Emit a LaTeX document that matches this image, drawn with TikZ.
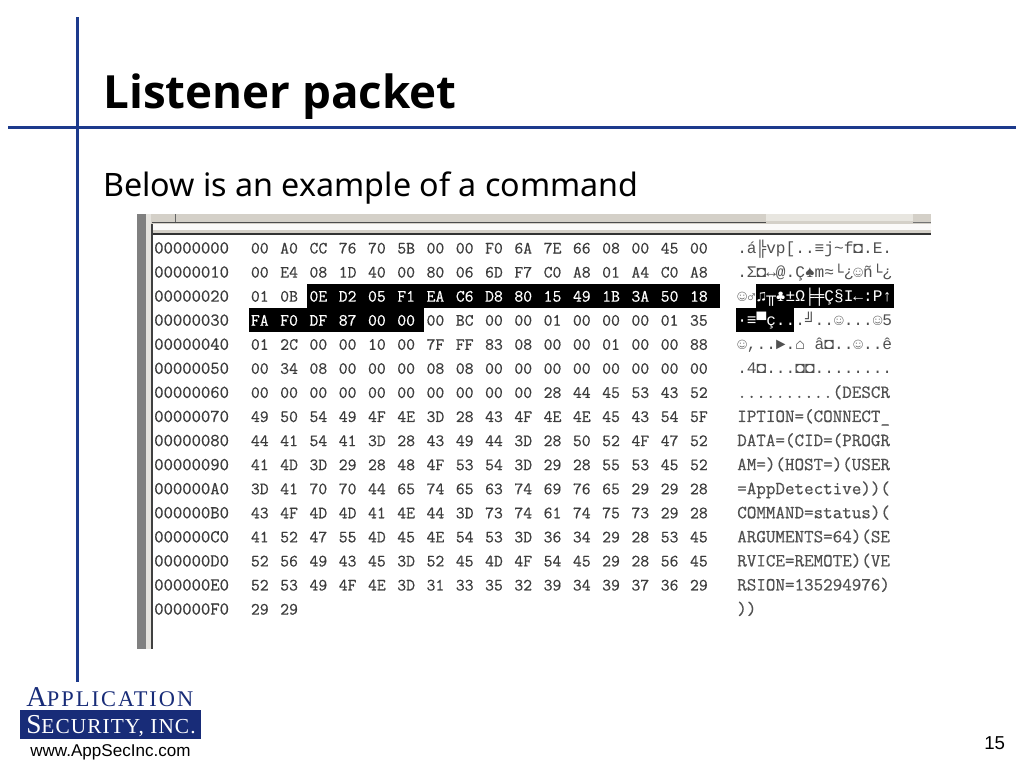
\documentclass[tikz,border=0pt]{standalone}
\usepackage{fontspec}
\usetikzlibrary{positioning}
\setmainfont{Noto Sans}
\newfontfamily\titlefont{Open Sans}
\newfontfamily\slabfont[FakeBold=0.5]{Latin Modern Mono}
\newfontfamily\hexfont{Liberation Mono}
\newfontfamily\urlfont{Liberation Sans}
\newfontfamily\logofont[LetterSpace=9]{Liberation Serif}
\newfontfamily\logoboxfont[LetterSpace=5]{Liberation Serif}
\definecolor{rulecol}{RGB}{28,58,140}
\definecolor{logocol}{RGB}{24,44,120}
\definecolor{chrome}{RGB}{212,208,200}
\definecolor{dither}{RGB}{232,230,224}
\definecolor{hexcol}{RGB}{60,60,60}
\definecolor{txtcol}{RGB}{80,80,80}
\begin{document}
\begin{tikzpicture}[x=0.75pt,y=-0.75pt]
\tikzstyle{rule}=[draw=rulecol,line width=2.25pt]
\tikzstyle{addrlabel}=[inner sep=0pt,anchor=base west,text=hexcol,font=\slabfont\fontsize{13.6}{14}\selectfont]
\tikzstyle{bytelabel}=[inner sep=0pt,anchor=base west,font=\slabfont\fontsize{12.9}{14}\selectfont]
\tikzstyle{charlabel}=[inner sep=0pt,anchor=base west,text=txtcol,font=\hexfont\fontsize{12.1}{12}\selectfont]
\tikzstyle{slablabel}=[inner sep=0pt,anchor=base west,text=txtcol,font=\slabfont\fontsize{13.9}{14}\selectfont]
\useasboundingbox (0,0) rectangle (1024,768);
\fill [white] (0,0) rectangle (1024,768);
\draw [rule] (77,17) -- (77,682);
\draw [rule] (8,127) -- (1016,127);
\node [inner sep=0pt,anchor=base west,font=\titlefont\bfseries\fontsize{34.3}{38}\selectfont] (title) at (103,108) {Listener packet};
\node [inner sep=0pt,anchor=base west,font=\fontsize{24.2}{30}\selectfont] (subtitle) at (103,196) {Below is an example of a command};
\fill [chrome] (147,214) rectangle (931,234);
\fill [white!90!chrome] (152,224) rectangle (931,230);
\fill [dither] (766,214) rectangle (913,221);
\fill [black!70] (152,221.5) rectangle (766,223);
\fill [black!55] (913,221.5) rectangle (931,223);
\fill [black!80] (152,233) rectangle (931,235);
\draw [black!60] (150,214) -- (150,222);
\draw [black!60] (175,214) -- (175,222);
\fill [black!50] (137,214) rectangle (146,649);
\fill [chrome!60!white] (146,214) rectangle (151,649);
\fill [black!75] (151,224) rectangle (153,649);
\fill [black] (307,284) rectangle (720,308);
\fill [black] (249,308) rectangle (424,332);
\fill [black] (756,284) rectangle (894,308);
\fill [black] (736,308) rectangle (794,332);
\foreach \n/\addr/\bytes/\stylename/\txt in {
0/00000000/{00,A0,CC,76,70,5B,00,00,F0,6A,7E,66,08,00,45,00}/charlabel/{.á╠vp[..≡j\textasciitilde f◘.E.},
1/00000010/{00,E4,08,1D,40,00,80,06,6D,F7,C0,A8,01,A4,C0,A8}/charlabel/{.Σ◘↔@.Ç♠m≈└¿☺ñ└¿},
2/00000020/{01,0B,0E,D2,05,F1,EA,C6,D8,80,15,49,1B,3A,50,18}/charlabel/{☺♂\textcolor{white}{♫╥♣±Ω╞╪Ç§I←:P↑}},
3/00000030/{FA,F0,DF,87,00,00,00,BC,00,00,01,00,00,00,01,35}/charlabel/{\textcolor{white}{·≡▀ç..}.╝..☺...☺5},
4/00000040/{01,2C,00,00,10,00,7F,FF,83,08,00,00,01,00,00,88}/charlabel/{☺,..►.⌂ â◘..☺..ê},
5/00000050/{00,34,08,00,00,00,08,08,00,00,00,00,00,00,00,00}/charlabel/{.4◘...◘◘........},
6/00000060/{00,00,00,00,00,00,00,00,00,00,28,44,45,53,43,52}/slablabel/{..........(DESCR},
7/00000070/{49,50,54,49,4F,4E,3D,28,43,4F,4E,4E,45,43,54,5F}/slablabel/{IPTION=(CONNECT\_},
8/00000080/{44,41,54,41,3D,28,43,49,44,3D,28,50,52,4F,47,52}/slablabel/{DATA=(CID=(PROGR},
9/00000090/{41,4D,3D,29,28,48,4F,53,54,3D,29,28,55,53,45,52}/slablabel/{AM=)(HOST=)(USER},
10/000000A0/{3D,41,70,70,44,65,74,65,63,74,69,76,65,29,29,28}/slablabel/{=AppDetective))(},
11/000000B0/{43,4F,4D,4D,41,4E,44,3D,73,74,61,74,75,73,29,28}/slablabel/{COMMAND=status)(},
12/000000C0/{41,52,47,55,4D,45,4E,54,53,3D,36,34,29,28,53,45}/slablabel/{ARGUMENTS=64)(SE},
13/000000D0/{52,56,49,43,45,3D,52,45,4D,4F,54,45,29,28,56,45}/slablabel/{RVICE=REMOTE)(VE},
14/000000E0/{52,53,49,4F,4E,3D,31,33,35,32,39,34,39,37,36,29}/slablabel/{RSION=135294976)},
15/000000F0/{29,29}/slablabel/{))}}
{
\pgfmathsetmacro{\rowy}{253.5+24.07*\n}
\node [addrlabel] (addr\n) at (154,\rowy) {\addr};
\foreach \b [count=\j] in \bytes {
\pgfmathsetmacro{\colx}{250.7+29.27*(\j-1)}
\pgfmathtruncatemacro{\inv}{(\n==2 && \j>2) || (\n==3 && \j<7) ? 1 : 0}
\ifnum\inv=1 \def\bytecol{white}\else \def\bytecol{hexcol}\fi
\node [bytelabel,text=\bytecol] (byte\n-\j) at (\colx,\rowy) {\b};
}
\node [\stylename] (char\n) at (737,\rowy) {\txt};
}
\node [inner sep=0pt,anchor=base west,text=logocol] (appname) at (26,706) {\logofont\fontsize{21.5}{20}\selectfont A\fontsize{16.8}{20}\selectfont PPLICATION};
\node [fill=logocol,minimum width=135.75pt,minimum height=21.75pt,inner sep=0pt,anchor=north west] (logobox) at (20,710) {};
\node [inner sep=0pt,anchor=base west,text=white] (secname) at (26,733) {\logoboxfont\fontsize{20.5}{20}\selectfont S\fontsize{16}{20}\selectfont ECURITY, INC.};
\node [inner sep=0pt,anchor=base west,font=\urlfont\fontsize{12.8}{14}\selectfont] (url) at (30,756) {www.AppSecInc.com};
\node [inner sep=0pt,anchor=base west,font=\urlfont\fontsize{14}{16}\selectfont] (pagenum) at (984,749) {15};
\end{tikzpicture}
\end{document}
